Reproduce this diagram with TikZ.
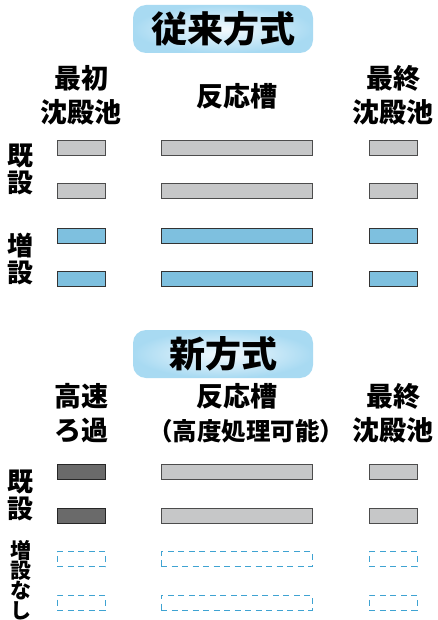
\documentclass[tikz,border=0pt]{standalone}
\usepackage{fontspec}
\newfontfamily\jp{Noto Sans CJK JP}
\usetikzlibrary{positioning}

\definecolor{tankgray}{HTML}{C6C7C8}
\definecolor{tankblue}{HTML}{7EC0DF}
\definecolor{tankdark}{HTML}{6A6A6A}
\definecolor{dashblue}{HTML}{3FA3D2}
\definecolor{bubbleout}{HTML}{A8DAF2}
\definecolor{bubblein}{HTML}{F4FAFE}

\begin{document}
\begin{tikzpicture}
			[
				x=1pt, y=-1pt,
				tank/.style={draw=black!70, line width=1pt, fill=tankgray, minimum height=15pt, inner sep=0pt},
				newtank/.style={tank, fill=tankblue, draw=black!80},
				filtertank/.style={tank, fill=tankdark, draw=black!85},
				plantank/.style={draw=dashblue, line width=1pt, dash pattern=on 6pt off 4.5pt, minimum height=15pt, inner sep=0pt},
				bubble/.style={rounded corners=13pt, minimum width=180pt, minimum height=48pt, inner color=bubblein, outer color=bubbleout, font=\jp\bfseries\fontsize{36}{40}\selectfont},
				head/.style={align=center, font=\jp\bfseries\fontsize{27}{34}\selectfont},
				rowlabel/.style={align=center, font=\jp\bfseries\fontsize{26}{27}\selectfont},
				smalllabel/.style={align=center, inner sep=0pt, font=\jp\bfseries\fontsize{21}{20}\selectfont}
			]
			\useasboundingbox (0,0) rectangle (437,620);

			% titles
			\node[bubble] (old) at ( 223.0,  29.0 ) {従来方式};
			\node[bubble] (new) at ( 223.0, 354.0 ) {新方式};

			% column heads
			\node[head] (oldh1) at (  81.0,  95.0 ) {最初\\沈殿池};
			\node[head] (oldh2) at ( 237.0,  96.0 ) {反応槽};
			\node[head] (oldh3) at ( 393.0,  95.0 ) {最終\\沈殿池};
			\node[head] (newh1) at (  81.0, 413.0 ) {高速\\ろ過};
			\node[head] (newh2) at ( 246.0, 413.0 ) {反応槽\hspace*{18pt}\\{\fontsize{24.5}{34}\selectfont （高度処理可能）}};
			\node[head] (newh3) at ( 393.0, 413.0 ) {最終\\沈殿池};

			% row labels
			\node[rowlabel] (oldex) at (  21.0, 169.0 ) {既\\設};
			\node[rowlabel] (oldadd) at (  21.0, 259.0 ) {増\\設};
			\node[rowlabel] (newex) at (  21.0, 495.0 ) {既\\設};
			\node[smalllabel] (newadd) at (  21.0, 580.5 ) {増\\設\\な\\し};

			% tanks
			\foreach \y/\n/\s in {148.5/oa/tank, 191.5/ob/tank, 235.5/oc/newtank, 279.0/od/newtank,
			                      515.5/nb/tank, 471.5/na/tank, 559.0/nc/plantank, 602.5/nd/plantank}
			{
				\node[\s, minimum width=151pt] (\n2) at ( 236.5, \y ) {};
				\node[\s, minimum width=48pt] (\n3) at ( 393.0, \y ) {};
			}
			\foreach \y/\n/\s in {148.5/oa/tank, 191.5/ob/tank, 235.5/oc/newtank, 279.0/od/newtank,
			                      471.5/na/filtertank, 515.5/nb/filtertank, 559.0/nc/plantank, 602.5/nd/plantank}
			\node[\s, minimum width=48pt] (\n1) at (  81.0, \y ) {};

		\end{tikzpicture}
\end{document}
